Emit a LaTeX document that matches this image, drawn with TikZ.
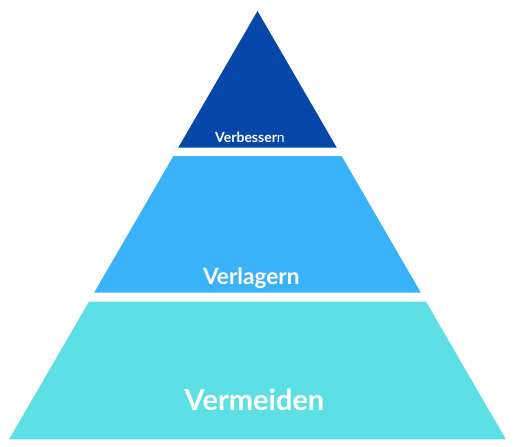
\documentclass[tikz,border=0pt]{standalone}
\usepackage{fontspec}
\setmainfont{Lato}
\usepackage{tikz}
\definecolor{tierone}{HTML}{0747A9}
\definecolor{tiertwo}{HTML}{3AB2FA}
\definecolor{tierthree}{HTML}{5CE0E5}

\begin{document}
\begin{tikzpicture}[x=1pt,y=-1pt,
		label/.style={text=white, font=\bfseries, anchor=base, inner sep=0pt}]
			\useasboundingbox (0,0) rectangle (515,447);
			\fill[tierone] (257.5,11) -- (336.8,147.7) -- (178.2,147.7) -- cycle;
			\fill[tiertwo] (173.4,156) -- (341.6,156) -- (420.9,292.7) -- (94.1,292.7) -- cycle;
			\fill[tierthree] (88.9,301.7) -- (426.1,301.7) -- (505.9,439.3) -- (9.1,439.3) -- cycle;
			\node[label, font=\fontsize{14}{16}\selectfont] (v1) at (250,142.7) {\textbf{Verbesser}n};
			\node[label, font=\bfseries\fontsize{22.6}{26}\selectfont] (v2) at (251.3,284.3) {Verlagern};
			\node[label, font=\bfseries\fontsize{29}{33}\selectfont] (v3) at (254.5,410) {Vermeiden};
		\end{tikzpicture}
\end{document}
